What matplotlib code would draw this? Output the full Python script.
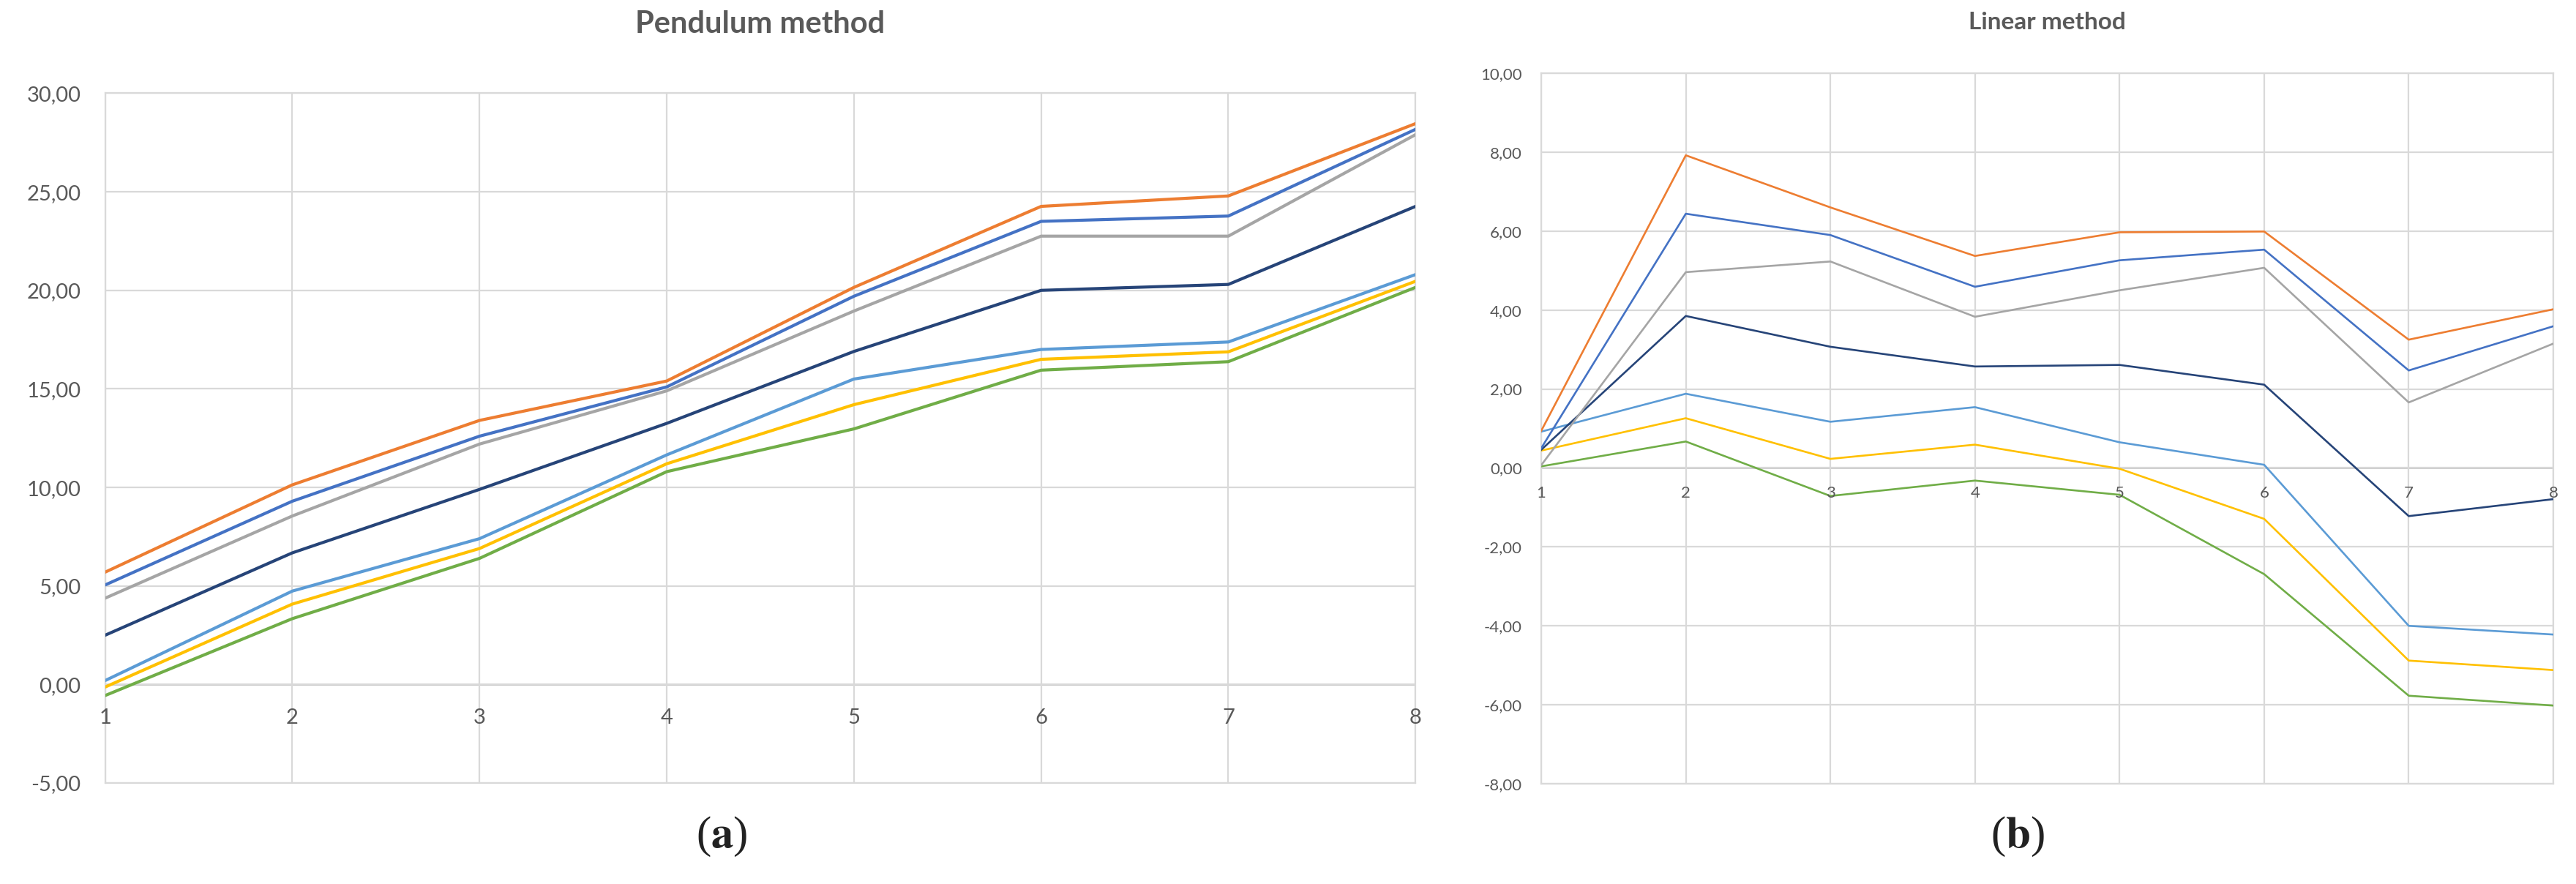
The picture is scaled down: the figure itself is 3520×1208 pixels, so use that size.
import matplotlib.pyplot as plt
from matplotlib.ticker import FuncFormatter, MultipleLocator

plt.rcParams['font.family'] = ['Lato', 'DejaVu Sans']
plt.rcParams['mathtext.fontset'] = 'stix'

steps = [1, 2, 3, 4, 5, 6, 7, 8]

# (a) Pendulum method
pend_orange = [5.70, 10.13, 13.40, 15.40, 20.15, 24.26, 24.79, 28.46]
pend_blue = [5.05, 9.30, 12.60, 15.10, 19.70, 23.50, 23.77, 28.17]
pend_gray = [4.38, 8.55, 12.20, 14.90, 18.95, 22.75, 22.75, 27.90]
pend_navy = [2.50, 6.68, 9.90, 13.25, 16.90, 20.00, 20.30, 24.26]
pend_lightblue = [0.20, 4.74, 7.40, 11.65, 15.50, 17.00, 17.38, 20.80]
pend_yellow = [-0.13, 4.08, 6.90, 11.20, 14.20, 16.50, 16.88, 20.46]
pend_green = [-0.56, 3.34, 6.40, 10.80, 12.97, 15.95, 16.38, 20.15]

# (b) Linear method
lin_orange = [0.94, 7.92, 6.60, 5.37, 5.97, 5.99, 3.25, 4.02]
lin_blue = [0.50, 6.44, 5.90, 4.59, 5.26, 5.53, 2.47, 3.59]
lin_gray = [0.07, 4.96, 5.23, 3.83, 4.50, 5.07, 1.66, 3.15]
lin_navy = [0.46, 3.85, 3.07, 2.57, 2.61, 2.11, -1.22, -0.79]
lin_lightblue = [0.92, 1.88, 1.17, 1.54, 0.65, 0.08, -4.00, -4.22]
lin_yellow = [0.44, 1.26, 0.23, 0.59, -0.02, -1.29, -4.88, -5.12]
lin_green = [0.04, 0.67, -0.71, -0.32, -0.68, -2.69, -5.77, -6.02]

colors = {"orange": "#ED7D31", "blue": "#4472C4", "gray": "#A5A5A5",
          "navy": "#264478", "lightblue": "#5B9BD5", "yellow": "#FFC000",
          "green": "#70AD47"}

pend_series = [(pend_green, "green"), (pend_yellow, "yellow"), (pend_lightblue, "lightblue"),
               (pend_navy, "navy"), (pend_gray, "gray"), (pend_blue, "blue"), (pend_orange, "orange")]
lin_series = [(lin_green, "green"), (lin_yellow, "yellow"), (lin_lightblue, "lightblue"),
              (lin_navy, "navy"), (lin_gray, "gray"), (lin_blue, "blue"), (lin_orange, "orange")]

text_gray = "#595959"
grid_gray = "#D9D9D9"


def comma(v, pos):
    return ("%.2f" % v).replace(".", ",")


def draw(ax, series, lw, ylim, ystep, fs, ypad, xoff, title, title_fs, title_y):
    for vals, name in series:
        ax.plot(steps, vals, color=colors[name], lw=lw, zorder=3)
    ax.set_xlim(1, 8)
    ax.set_ylim(*ylim)
    ax.yaxis.set_major_locator(MultipleLocator(ystep))
    ax.yaxis.set_major_formatter(FuncFormatter(comma))
    ax.set_xticks(steps)
    ax.set_xticklabels([])
    ax.grid(True, color=grid_gray, lw=0.8, zorder=0)
    ax.axhline(0, color="#C8C8C8", lw=1.0, zorder=1)
    for s in ax.spines.values():
        s.set_color(grid_gray)
        s.set_linewidth(0.8)
    ax.tick_params(axis="both", length=0, labelsize=fs, labelcolor=text_gray)
    ax.tick_params(axis="y", pad=ypad)
    # x labels sit under the zero line, like in Excel
    for x in steps:
        ax.annotate(str(x), xy=(x, 0), xytext=(0, xoff), textcoords="offset points",
                    ha="center", va="center", fontsize=fs, color=text_gray, zorder=4)
    ax.set_title(title, fontsize=title_fs, fontweight="bold", color=text_gray, y=title_y)


fig = plt.figure(figsize=(17.6, 6.04), dpi=200)

ax1 = fig.add_axes([0.0408, 0.1142, 0.5087, 0.7803])
draw(ax1, pend_series, 1.5, (-5, 30), 5, 10.5, 12, -16.5, "Pendulum method", 15, 1.07)

ax2 = fig.add_axes([0.5983, 0.1134, 0.3929, 0.8038])
draw(ax2, lin_series, 0.95, (-8, 10), 2, 8, 9.5, -12.6, "Linear method", 12, 1.045)

fig.text(986 / 3520, 1 - 1143 / 1208, r"($\mathbf{a}$)", ha="center", va="center",
         fontsize=22, family=["Liberation Serif", "DejaVu Serif"], color="#222222")
fig.text(2757 / 3520, 1 - 1143 / 1208, r"($\mathbf{b}$)", ha="center", va="center",
         fontsize=22, family=["Liberation Serif", "DejaVu Serif"], color="#222222")

fig.savefig("out.png", dpi=200, facecolor="white")
